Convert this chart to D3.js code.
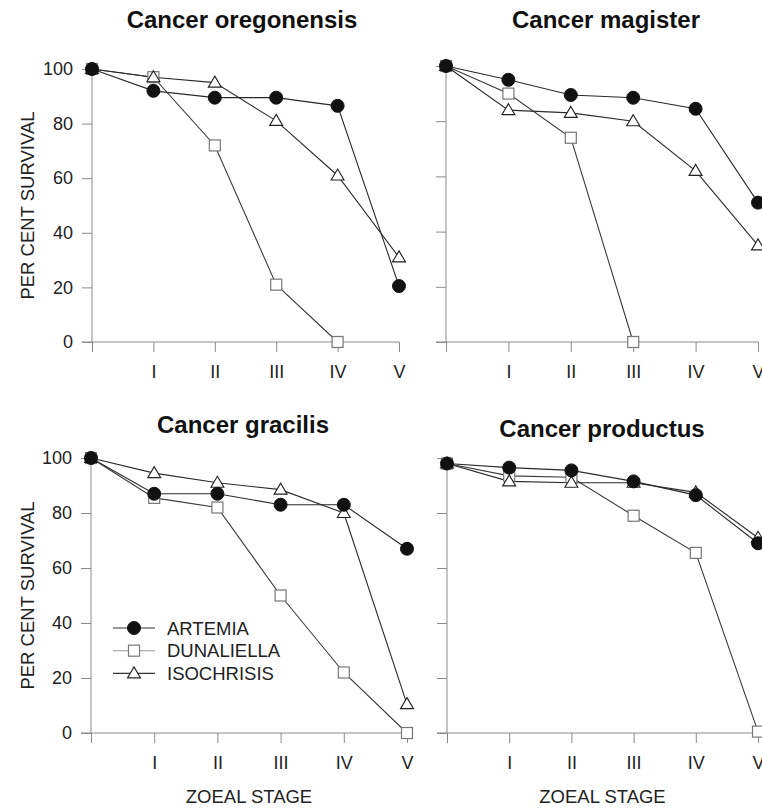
<!DOCTYPE html>
<html>
<head>
<meta charset="utf-8">
<script src="https://cdn.jsdelivr.net/npm/d3@7"></script>
<style>
  body { margin: 0; background: #fff; }
  svg { display: block; font-family: "Liberation Sans", Arial, sans-serif; }
  .axis text { fill: #222; font-size: 18px; }
  .axis line { stroke: #8a8a8a; }
</style>
</head>
<body>
<svg id="chart" width="762" height="808"></svg>
<script>
// values (per cent survival per zoeal stage)
const stages = ["", "I", "II", "III", "IV", "V"];
const yTicks = [0, 20, 40, 60, 80, 100];
const species = ["Cancer oregonensis", "Cancer magister", "Cancer gracilis", "Cancer productus"];
const foods = ["ARTEMIA", "DUNALIELLA", "ISOCHRISIS"];

const artemia = [
  [100, 92, 89.5, 89.5, 86.5, 20.5],
  [100, 95, 89.5, 88.5, 84.5, 50.5],
  [100, 87, 87, 83, 83, 67],
  [98, 96.5, 95.5, 91.5, 86.5, 69]
];
const dunaliella = [
  [100, 97, 72, 21, 0, null],
  [100, 90, 74, 0, null, null],
  [100, 85.5, 82, 50, 22, 0],
  [98, 93.5, 93, 79, 65.5, 0.5]
];
const isochrisis = [
  [100, 97, 95, 81, 61, 31],
  [100, 84, 83, 80, 62, 35],
  [100, 94.5, 91, 88.5, 80, 10.5],
  [98, 91.5, 91, 91, 87.5, 71]
];

const svg = d3.select("#chart");

// panel frames (x of stage 0 / V, y of 100 / 0)
const frames = [
  {x0: 92, x1: 399, y0: 69, y1: 342, tx: 242, ty: 28, left: true, bottom: false},
  {x0: 446, x1: 758, y0: 66, y1: 342, tx: 606, ty: 28, left: false, bottom: false},
  {x0: 91, x1: 407, y0: 458, y1: 733, tx: 243, ty: 433, left: true, bottom: true},
  {x0: 447, x1: 758, y0: 458, y1: 733, tx: 602, ty: 437, left: false, bottom: true}
];

const seriesStyle = [
  {name: "artemia", line: "#2a2a2a", shape: "circle"},
  {name: "dunaliella", line: "#3a3a3a", shape: "square"},
  {name: "isochrisis", line: "#2a2a2a", shape: "triangle"}
];

function marker(g, shape, x, y) {
  if (shape === "circle") {
    g.append("circle").attr("cx", x).attr("cy", y).attr("r", 6.5)
      .attr("fill", "#111").attr("stroke", "#111");
  } else if (shape === "square") {
    g.append("rect").attr("x", x - 5.5).attr("y", y - 5.5)
      .attr("width", 11).attr("height", 11)
      .attr("fill", "#fff").attr("stroke", "#777").attr("stroke-width", 1.2);
  } else {
    g.append("path")
      .attr("d", `M${x},${y - 6.5}L${x + 6.5},${y + 4.5}L${x - 6.5},${y + 4.5}Z`)
      .attr("fill", "#fff").attr("stroke", "#222").attr("stroke-width", 1.1);
  }
}

frames.forEach((f, p) => {
  const x = d3.scaleLinear().domain([0, stages.length - 1]).range([f.x0, f.x1]);
  const y = d3.scaleLinear().domain([0, 100]).range([f.y1, f.y0]);
  const g = svg.append("g");

  // title
  g.append("text")
    .attr("x", f.tx).attr("y", f.ty)
    .attr("text-anchor", "middle")
    .attr("font-size", 24).attr("font-weight", "bold").attr("fill", "#111")
    .text(species[p]);

  // y axis
  const yAxis = d3.axisLeft(y).tickValues(yTicks).tickSize(10).tickPadding(9)
    .tickFormat(f.left ? d3.format("d") : () => "");
  g.append("g").attr("class", "axis").attr("transform", `translate(${f.x0},0)`)
    .call(yAxis).call(a => a.select(".domain").remove());

  // x axis
  const xAxis = d3.axisBottom(x).tickValues(d3.range(stages.length)).tickSize(10).tickPadding(13)
    .tickFormat(i => stages[i]);
  g.append("g").attr("class", "axis").attr("transform", `translate(0,${f.y1})`)
    .call(xAxis).call(a => a.select(".domain").remove());

  // axis lines
  g.append("line").attr("x1", f.x0).attr("x2", f.x0).attr("y1", y(100)).attr("y2", y(0))
    .attr("stroke", "#8a8a8a");
  g.append("line").attr("x1", f.x0 - 10).attr("x2", f.x1).attr("y1", y(0)).attr("y2", y(0))
    .attr("stroke", "#8a8a8a");

  const sets = [artemia[p], dunaliella[p], isochrisis[p]];
  const line = d3.line().defined(d => d != null).x((d, i) => x(i)).y(d => y(d));

  sets.forEach((vals, s) => {
    g.append("path").datum(vals).attr("d", line)
      .attr("fill", "none").attr("stroke", seriesStyle[s].line).attr("stroke-width", 1.1);
  });
  // draw squares, then triangles, then circles on top
  [1, 2, 0].forEach(s => {
    sets[s].forEach((v, i) => { if (v != null) marker(g, seriesStyle[s].shape, x(i), y(v)); });
  });

  if (f.left) {
    g.append("text")
      .attr("transform", `translate(34,${(f.y0 + f.y1) / 2}) rotate(-90)`)
      .attr("text-anchor", "middle").attr("font-size", 18.5).attr("fill", "#222")
      .text("PER CENT SURVIVAL");
  }
  if (f.bottom) {
    g.append("text")
      .attr("x", (f.x0 + f.x1) / 2).attr("y", 803)
      .attr("text-anchor", "middle").attr("font-size", 18.5).attr("fill", "#222")
      .text("ZOEAL STAGE");
  }
});

// legend inside the Cancer gracilis panel
const legend = svg.append("g");
foods.forEach((name, s) => {
  const ly = 628 + s * 22.7;
  legend.append("line").attr("x1", 113).attr("x2", 155).attr("y1", ly).attr("y2", ly)
    .attr("stroke", s === 1 ? "#999" : "#333").attr("stroke-width", 1.1);
  marker(legend, seriesStyle[s].shape, 134, ly);
  legend.append("text").attr("x", 167).attr("y", ly).attr("dy", "0.36em")
    .attr("font-size", 18.5).attr("fill", "#222").text(name);
});
</script>
</body>
</html>
